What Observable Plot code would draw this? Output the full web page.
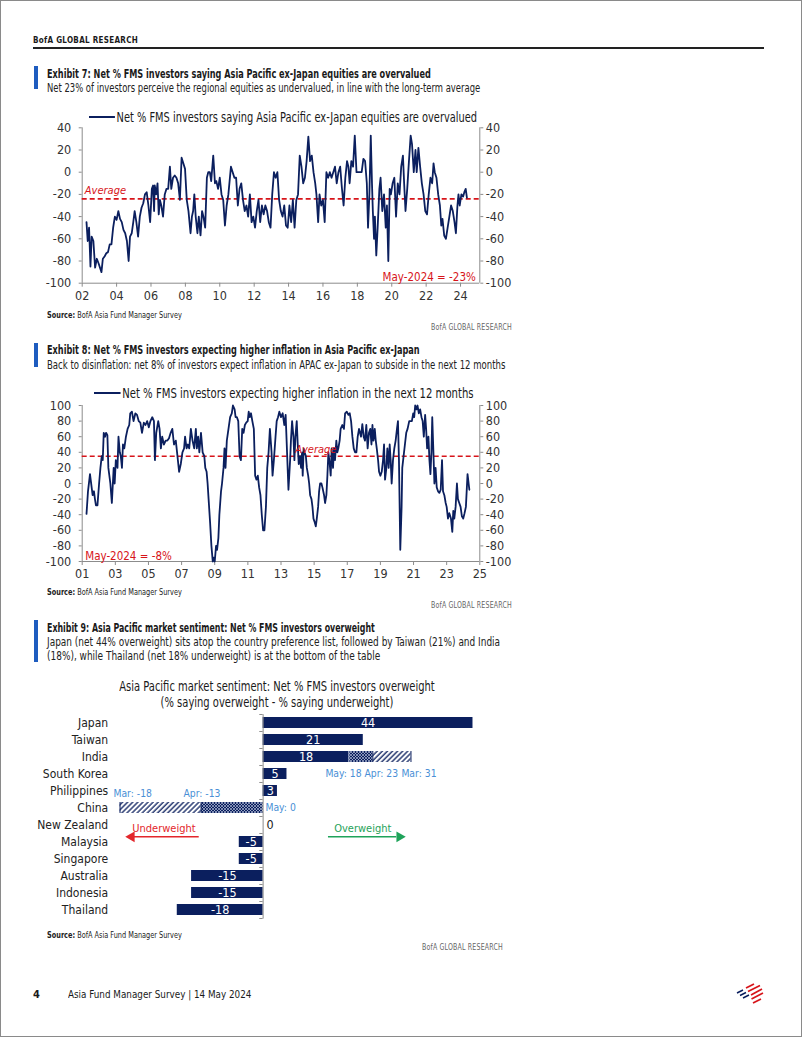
<!DOCTYPE html>
<html><head><meta charset="utf-8">
<script src="https://cdn.jsdelivr.net/npm/d3@7"></script>
<script src="https://cdn.jsdelivr.net/npm/@observablehq/plot@0.6"></script>
<style>
html,body{margin:0;padding:0;background:#fff;}
#page{position:relative;width:802px;height:1037px;overflow:hidden;font-family:"DejaVu Sans Condensed","Liberation Sans Narrow",Roboto,sans-serif;color:#1a1a1a;}
#frame{position:absolute;left:0;top:0;width:802px;height:1037px;box-sizing:border-box;border:1px solid #8a8a8a;pointer-events:none;}
.abs{position:absolute;white-space:nowrap;transform-origin:0 50%;}
.bar{position:absolute;left:34px;width:3.5px;background:#1e5cbf;}
.title{font-size:12.5px;font-weight:bold;line-height:14px;transform:scaleX(0.725);}
.sub{font-size:12px;line-height:14px;color:#222;}
.src{font-size:8px;line-height:10px;color:#222;transform:scaleX(0.91);}
.gr{font-size:8px;line-height:10px;color:#666;letter-spacing:0.2px;transform:scaleX(0.87);transform-origin:100% 50%;}
.leg{font-size:13.5px;line-height:14px;color:#1a1a1a;}
.sw{display:inline-block;width:32px;height:2px;background:#0b1f5e;vertical-align:middle;margin-right:2px;position:relative;top:-1px;}
.chart{position:absolute;}
</style></head>
<body>
<div id="page">
  <div class="abs" style="left:33px;top:36px;font-size:8px;font-weight:bold;letter-spacing:0.3px;">BofA GLOBAL RESEARCH</div>
  <div class="abs" style="left:33px;top:47px;width:731px;height:1.5px;background:#222;"></div>

  <div class="bar" style="top:66px;height:23px;"></div>
  <div class="abs title" style="left:47px;top:67px;">Exhibit 7: Net % FMS investors saying Asia Pacific ex-Japan equities are overvalued</div>
  <div class="abs sub" style="left:47px;top:81px;transform:scaleX(0.78);">Net 23% of investors perceive the regional equities as undervalued, in line with the long-term average</div>
  <div class="abs leg" style="left:89px;top:110px;transform:scaleX(0.81);"><span class="sw"></span>Net % FMS investors saying Asia Pacific ex-Japan equities are overvalued</div>
  <div id="c1" class="chart" style="left:30px;top:100px;"></div>
  <div class="abs src" style="left:47px;top:311px;"><b>Source:</b> BofA Asia Fund Manager Survey</div>
  <div class="abs gr" style="right:290px;top:323px;">BofA GLOBAL RESEARCH</div>

  <div class="bar" style="top:343px;height:24px;"></div>
  <div class="abs title" style="left:47px;top:343px;">Exhibit 8: Net % FMS investors expecting higher inflation in Asia Pacific ex-Japan</div>
  <div class="abs sub" style="left:47px;top:358px;transform:scaleX(0.79);">Back to disinflation: net 8% of investors expect inflation in APAC ex-Japan to subside in the next 12 months</div>
  <div class="abs leg" style="left:94px;top:386px;transform:scaleX(0.83);"><span class="sw"></span>Net % FMS investors expecting higher inflation in the next 12 months</div>
  <div id="c2" class="chart" style="left:30px;top:380px;"></div>
  <div class="abs src" style="left:47px;top:588px;"><b>Source:</b> BofA Asia Fund Manager Survey</div>
  <div class="abs gr" style="right:290px;top:601px;">BofA GLOBAL RESEARCH</div>

  <div class="bar" style="top:620px;height:42px;"></div>
  <div class="abs title" style="left:47px;top:621px;transform:scaleX(0.7);">Exhibit 9: Asia Pacific market sentiment: Net % FMS investors overweight</div>
  <div class="abs sub" style="left:47px;top:636px;line-height:13.5px;transform:scaleX(0.83);transform-origin:0 0;">Japan (net 44% overweight) sits atop the country preference list, followed by Taiwan (21%) and India<br>(18%), while Thailand (net 18% underweight) is at the bottom of the table</div>
  <div class="abs" style="left:77px;top:678px;width:400px;text-align:center;font-size:14px;line-height:16px;transform:scaleX(0.79);transform-origin:50% 50%;">Asia Pacific market sentiment: Net % FMS investors overweight<br>(% saying overweight - % saying underweight)</div>
  <div id="c3" class="chart" style="left:30px;top:710px;"></div>
  <div class="abs src" style="left:47px;top:931px;"><b>Source:</b> BofA Asia Fund Manager Survey</div>
  <div class="abs gr" style="right:299px;top:943px;">BofA GLOBAL RESEARCH</div>

  <div class="abs" style="left:33px;top:988px;font-size:11px;font-weight:bold;line-height:14px;">4</div>
  <div class="abs" style="left:68px;top:988px;font-size:11px;line-height:14px;transform:scaleX(0.89);">Asia Fund Manager Survey | 14 May 2024</div>
  <svg class="abs" style="left:733px;top:983px;" width="32" height="22" viewBox="0 0 32 22">
    <g stroke-linecap="butt" fill="none">
      <path d="M4 10 L10 7 M7 12.5 L13 9.5 M10 15 L16 12" stroke="#0b1f5e" stroke-width="1.5"/>
      <path d="M13 5 L21 1 M15 8.5 L27 2.5 M18 12 L29 6 M18.5 16 L30 10 M20 20 L28 16" stroke="#d7141a" stroke-width="1.7"/>
    </g>
  </svg>
  <div id="frame"></div>
</div>
<script>
// ---------- DATA ----------
// Exhibit 7: net % saying APxJ equities overvalued [year, value]
const valuationSeries = [[2002.25,-45],[2002.32,-62],[2002.40,-50],[2002.48,-85],[2002.55,-58],[2002.65,-62],[2002.75,-86],[2002.85,-78],[2002.95,-82],[2003.12,-90],[2003.2,-78],[2003.3,-76],[2003.4,-73],[2003.5,-72],[2003.6,-65],[2003.7,-65],[2003.8,-50],[2003.9,-40],[2004.0,-43],[2004.1,-35],[2004.2,-42],[2004.3,-45],[2004.4,-52],[2004.5,-55],[2004.6,-62],[2004.7,-80],[2004.78,-58],[2004.88,-55],[2004.97,-45],[2005.05,-35],[2005.15,-45],[2005.25,-58],[2005.35,-40],[2005.45,-32],[2005.55,-28],[2005.65,-20],[2005.75,-18],[2005.85,-30],[2005.95,-45],[2006.05,-15],[2006.12,-12],[2006.18,-35],[2006.22,-12],[2006.3,-20],[2006.38,-10],[2006.45,-38],[2006.52,-25],[2006.6,-30],[2006.7,-40],[2006.8,-20],[2006.9,-15],[2007.0,-15],[2007.1,5],[2007.18,-15],[2007.28,-5],[2007.38,-3],[2007.48,-5],[2007.58,-10],[2007.68,-25],[2007.78,13],[2007.88,8],[2007.98,3],[2008.08,-25],[2008.18,-35],[2008.3,-55],[2008.38,-40],[2008.45,-35],[2008.52,-20],[2008.6,-40],[2008.7,-55],[2008.78,-40],[2008.88,-57],[2008.97,-35],[2009.05,-40],[2009.15,-50],[2009.25,-5],[2009.33,0],[2009.42,0],[2009.5,-8],[2009.62,15],[2009.72,-10],[2009.8,-8],[2009.9,-15],[2010.0,-5],[2010.1,-20],[2010.2,-25],[2010.3,-48],[2010.4,-30],[2010.5,-20],[2010.65,5],[2010.75,0],[2010.85,-5],[2010.95,-5],[2011.05,-30],[2011.15,-15],[2011.25,-10],[2011.35,-25],[2011.45,-35],[2011.55,-30],[2011.65,-40],[2011.75,-20],[2011.85,-45],[2011.95,-40],[2012.05,-50],[2012.15,-35],[2012.25,-25],[2012.35,-45],[2012.45,-30],[2012.55,-38],[2012.65,-30],[2012.75,-35],[2012.85,-45],[2012.95,-50],[2013.05,-20],[2013.15,0],[2013.25,-5],[2013.35,0],[2013.45,-25],[2013.55,-35],[2013.65,-40],[2013.75,-30],[2013.85,-48],[2013.95,-50],[2014.05,-30],[2014.15,-45],[2014.25,-25],[2014.35,-50],[2014.45,-25],[2014.55,-20],[2014.65,15],[2014.75,5],[2014.85,-10],[2014.95,-5],[2015.05,10],[2015.15,32],[2015.25,10],[2015.35,15],[2015.45,0],[2015.55,-10],[2015.62,-20],[2015.72,-45],[2015.8,-20],[2015.9,-30],[2016.0,-25],[2016.1,-45],[2016.2,0],[2016.3,-5],[2016.4,0],[2016.5,-5],[2016.6,0],[2016.7,5],[2016.8,-10],[2016.9,0],[2017.0,5],[2017.1,-14],[2017.2,-30],[2017.3,-5],[2017.4,10],[2017.48,5],[2017.55,-10],[2017.65,10],[2017.75,5],[2017.85,33],[2017.95,0],[2018.1,0],[2018.25,0],[2018.35,12],[2018.45,10],[2018.55,-10],[2018.62,-50],[2018.7,-20],[2018.78,33],[2018.85,-10],[2018.9,-35],[2018.97,-60],[2019.02,-40],[2019.1,-75],[2019.18,-50],[2019.28,-15],[2019.35,-5],[2019.45,-35],[2019.55,-20],[2019.65,-50],[2019.72,-30],[2019.8,-80],[2019.88,-15],[2019.95,-20],[2020.05,-10],[2020.15,-5],[2020.25,-40],[2020.35,-10],[2020.45,-20],[2020.55,5],[2020.65,15],[2020.72,-10],[2020.8,-35],[2020.9,-15],[2021.0,10],[2021.1,33],[2021.18,25],[2021.28,0],[2021.38,20],[2021.45,0],[2021.55,22],[2021.65,5],[2021.75,-10],[2021.85,-20],[2021.95,-35],[2022.05,-38],[2022.15,-20],[2022.25,-5],[2022.35,-10],[2022.43,8],[2022.5,0],[2022.6,-5],[2022.7,-20],[2022.8,-30],[2022.88,-48],[2022.95,-42],[2023.05,-57],[2023.15,-60],[2023.25,-50],[2023.35,-40],[2023.45,-30],[2023.55,-35],[2023.65,-45],[2023.73,-55],[2023.82,-30],[2023.88,-20],[2023.95,-30],[2024.05,-20],[2024.15,-22],[2024.22,-18],[2024.3,-15],[2024.37,-23]];
const valuationAverage = -24;
const valuationYTicks = [-100,-80,-60,-40,-20,0,20,40];
const valuationXTicks = [2002,2004,2006,2008,2010,2012,2014,2016,2018,2020,2022,2024];
const valuationLatest = "May-2024 = -23%";

// Exhibit 8: net % expecting higher inflation [year, value]
const inflationSeries = [[2001.26,-39],[2001.35,-10],[2001.47,12],[2001.57,-5],[2001.63,-15],[2001.71,-10],[2001.77,-20],[2001.83,-28],[2001.92,-28],[2002.02,0],[2002.1,20],[2002.18,35],[2002.24,30],[2002.3,65],[2002.38,60],[2002.44,65],[2002.52,62],[2002.58,20],[2002.7,0],[2002.79,-25],[2002.9,20],[2002.96,0],[2003.03,30],[2003.13,20],[2003.19,60],[2003.27,40],[2003.33,35],[2003.4,20],[2003.46,50],[2003.54,45],[2003.64,60],[2003.74,70],[2003.84,75],[2003.9,90],[2004.0,92],[2004.1,80],[2004.21,90],[2004.31,88],[2004.41,80],[2004.51,78],[2004.61,65],[2004.72,78],[2004.82,75],[2004.92,80],[2005.02,72],[2005.12,80],[2005.23,85],[2005.33,80],[2005.39,30],[2005.47,65],[2005.59,80],[2005.67,70],[2005.75,45],[2005.83,60],[2005.93,50],[2006.04,55],[2006.14,55],[2006.24,58],[2006.34,65],[2006.44,70],[2006.54,50],[2006.65,55],[2006.75,35],[2006.85,15],[2006.95,25],[2007.05,40],[2007.15,45],[2007.21,60],[2007.3,45],[2007.38,50],[2007.46,45],[2007.56,70],[2007.66,55],[2007.76,45],[2007.86,70],[2007.92,45],[2008.0,60],[2008.07,40],[2008.17,65],[2008.27,40],[2008.37,35],[2008.43,20],[2008.51,15],[2008.57,0],[2008.63,-20],[2008.72,-50],[2008.8,-80],[2008.88,-100],[2008.94,-95],[2009.0,-100],[2009.08,-80],[2009.14,-85],[2009.22,-70],[2009.28,-40],[2009.38,-10],[2009.44,0],[2009.53,20],[2009.59,45],[2009.65,20],[2009.73,55],[2009.83,70],[2009.93,85],[2010.03,90],[2010.1,100],[2010.2,95],[2010.26,85],[2010.34,85],[2010.42,80],[2010.5,35],[2010.58,30],[2010.66,70],[2010.74,65],[2010.82,75],[2010.9,78],[2010.99,80],[2011.05,92],[2011.11,85],[2011.19,90],[2011.27,80],[2011.36,70],[2011.44,10],[2011.52,5],[2011.6,10],[2011.68,-5],[2011.76,-15],[2011.84,-40],[2011.92,-60],[2012.0,-60],[2012.09,-30],[2012.17,20],[2012.25,40],[2012.33,70],[2012.43,40],[2012.49,10],[2012.57,30],[2012.67,60],[2012.74,80],[2012.82,85],[2012.9,92],[2013.0,85],[2013.1,90],[2013.2,75],[2013.28,88],[2013.45,-8],[2013.55,30],[2013.6,55],[2013.67,80],[2013.75,60],[2013.81,30],[2013.87,60],[2013.95,80],[2014.01,50],[2014.07,25],[2014.15,35],[2014.21,20],[2014.27,40],[2014.31,10],[2014.37,45],[2014.43,40],[2014.5,35],[2014.56,20],[2014.64,10],[2014.7,0],[2014.76,-15],[2014.84,-20],[2014.9,-30],[2014.96,-45],[2015.04,-50],[2015.1,-55],[2015.16,-45],[2015.24,-30],[2015.3,-10],[2015.36,0],[2015.44,0],[2015.5,-5],[2015.6,-15],[2015.66,-25],[2015.74,-15],[2015.8,10],[2015.86,40],[2015.94,25],[2016.0,10],[2016.06,45],[2016.14,20],[2016.2,45],[2016.26,30],[2016.34,55],[2016.4,40],[2016.46,45],[2016.54,55],[2016.6,70],[2016.7,75],[2016.8,70],[2016.87,90],[2016.97,92],[2017.07,88],[2017.15,90],[2017.23,80],[2017.31,60],[2017.39,45],[2017.47,40],[2017.55,40],[2017.63,60],[2017.71,70],[2017.77,65],[2017.83,60],[2017.91,76],[2017.99,60],[2018.07,55],[2018.15,75],[2018.23,45],[2018.31,65],[2018.39,70],[2018.46,50],[2018.52,75],[2018.58,55],[2018.66,70],[2018.72,55],[2018.78,45],[2018.86,30],[2018.92,15],[2019.0,10],[2019.08,15],[2019.16,30],[2019.22,50],[2019.28,5],[2019.36,20],[2019.42,45],[2019.5,20],[2019.56,50],[2019.62,30],[2019.68,0],[2019.76,30],[2019.84,45],[2019.92,55],[2020.0,70],[2020.06,80],[2020.12,30],[2020.2,-85],[2020.28,-30],[2020.32,20],[2020.4,35],[2020.48,50],[2020.56,65],[2020.64,70],[2020.74,80],[2020.82,80],[2020.9,80],[2020.98,90],[2021.04,85],[2021.1,100],[2021.18,95],[2021.24,100],[2021.32,90],[2021.4,95],[2021.48,85],[2021.55,80],[2021.62,60],[2021.7,88],[2021.76,70],[2021.82,45],[2021.9,60],[2021.96,30],[2022.02,12],[2022.08,40],[2022.13,85],[2022.2,40],[2022.26,0],[2022.33,20],[2022.4,-5],[2022.48,-10],[2022.56,-12],[2022.64,-8],[2022.72,30],[2022.78,-10],[2022.86,-15],[2022.94,-25],[2023.0,-30],[2023.08,-45],[2023.16,-38],[2023.26,-45],[2023.34,-62],[2023.4,-35],[2023.46,-45],[2023.54,-30],[2023.62,0],[2023.68,-20],[2023.76,-25],[2023.84,-30],[2023.92,-42],[2024.0,-45],[2024.08,-38],[2024.16,-30],[2024.26,12],[2024.37,-8]];
const inflationAverage = 35;
const inflationYTicks = [-100,-80,-60,-40,-20,0,20,40,60,80,100];
const inflationXTicks = [2001,2003,2005,2007,2009,2011,2013,2015,2017,2019,2021,2023,2025];
const inflationLatest = "May-2024 = -8%";

// Exhibit 9: net % overweight, May 2024
const countries = ["Japan","Taiwan","India","South Korea","Philippines","China","New Zealand","Malaysia","Singapore","Australia","Indonesia","Thailand"];
const netOverweight = [44,21,18,5,3,0,0,-5,-5,-15,-15,-18];
// previous months for India and China (bar extents as drawn) and their labels
const histCountries = ["India","China"];
const histMay = [18,0];
const histApr = [23,-13];
const histMar = [31,-30];
const histMayLabel = ["May: 18","May: 0"];
const histAprLabel = ["Apr: 23","Apr: -13"];
const histMarLabel = ["Mar: 31","Mar: -18"];

// ---------- STYLE ----------
const FONT = '"DejaVu Sans Condensed","Liberation Sans Narrow",Roboto,sans-serif';
const NAVY = "#0b1f5e", RED = "#d7141a", AXIS = "#8c8c8c", TXT = "#333", LBLUE = "#4a8fd6", GREEN = "#1fa35a";
const yy = d => String(d % 100).padStart(2, "0");
const plain = d => String(d);

function lineChart({series, avg, xDomain, yDomain, xTicks, yTicks, height, marginTop, marginBottom, avgAt, latest, latestAnchor, latestDx}) {
  return Plot.plot({
    width: 480, height, marginLeft: 51.7, marginRight: 30.7, marginTop, marginBottom,
    x: {domain: xDomain}, y: {domain: yDomain},
    style: {fontFamily: FONT, fontSize: "12.5px", color: TXT, background: "transparent", overflow: "visible"},
    marks: [
      Plot.ruleX(xDomain, {stroke: AXIS, strokeWidth: 1}),
      Plot.ruleY([yDomain[0]], {stroke: AXIS, strokeWidth: 1}),
      Plot.axisY(yTicks, {anchor: "left", tickSize: 3, tickPadding: 8, stroke: AXIS, fill: TXT, tickFormat: plain, label: null}),
      Plot.axisY(yTicks, {anchor: "right", tickSize: 3, tickPadding: 3, stroke: AXIS, fill: TXT, tickFormat: plain, label: null}),
      Plot.axisX(xTicks, {anchor: "bottom", tickSize: 4, tickPadding: 4, stroke: AXIS, fill: TXT, tickFormat: yy, label: null}),
      Plot.ruleY([avg], {stroke: RED, strokeWidth: 1.6, strokeDasharray: "5,3"}),
      Plot.line(series, {x: d => d[0], y: d => d[1], stroke: NAVY, strokeWidth: 1.8}),
      Plot.text(["Average"], {x: avgAt[0], y: avgAt[1], fill: RED, fontStyle: "italic", fontSize: 11}),
      Plot.text([latest], {frameAnchor: latestAnchor, dx: latestDx, dy: -2, fill: RED, fontSize: 11.5})
    ]
  });
}

document.getElementById("c1").append(lineChart({
  series: valuationSeries, avg: valuationAverage, xDomain: [2002, 2025.12], yDomain: [-100, 40],
  xTicks: valuationXTicks, yTicks: valuationYTicks, height: 215, marginTop: 27.3, marginBottom: 32.3,
  avgAt: [2003.35, -16.5], latest: valuationLatest, latestAnchor: "bottom-right", latestDx: -4
}));

document.getElementById("c2").append(lineChart({
  series: inflationSeries, avg: inflationAverage, xDomain: [2001, 2025], yDomain: [-100, 100],
  xTicks: inflationXTicks, yTicks: inflationYTicks, height: 210, marginTop: 25, marginBottom: 29,
  avgAt: [2015.1, 44], latest: inflationLatest, latestAnchor: "bottom-left", latestDx: 3
}));

// ---------- Exhibit 9 ----------
const ow = countries.map((c, i) => ({c, v: netOverweight[i]}));
const hist = histCountries.map((c, i) => ({c, may: histMay[i], apr: histApr[i], mar: histMar[i],
  mayL: histMayLabel[i], aprL: histAprLabel[i], marL: histMarLabel[i]}));
const india = hist.filter(d => d.c === "India");
const china = hist.filter(d => d.c === "China");
const step = 17.03;
const small = {fill: LBLUE, fontSize: 10.3, textAnchor: "start"};

const c3 = Plot.plot({
  width: 480, height: 212, marginLeft: 80, marginRight: 8.9, marginTop: 4.2, marginBottom: 3.4,
  x: {domain: [-32, 50], axis: null},
  y: {domain: countries, paddingInner: 0.336, paddingOuter: 0.168},
  style: {fontFamily: FONT, fontSize: "12px", color: "#222", background: "transparent", overflow: "visible"},
  marks: [
    Plot.axisY({anchor: "left", tickSize: 0, tickPadding: 2.3, fontSize: 12, fill: "#222", label: null}),
    Plot.barX(ow.filter(d => d.v !== 0), {x: "v", y: "c", fill: NAVY}),
    Plot.barX(hist, {x1: "may", x2: "apr", y: "c", fill: "url(#xhatch)"}),
    Plot.barX(hist, {x1: "apr", x2: "mar", y: "c", fill: "url(#dhatch)"}),
    Plot.tickX(hist, {x: "apr", y: "c", stroke: NAVY, strokeWidth: 1}),
    Plot.tickX(hist, {x: "mar", y: "c", stroke: NAVY, strokeWidth: 1}),
    Plot.tickX(india, {x: "may", y: "c", stroke: "#9aa6c8", strokeWidth: 1}),
    Plot.ruleX([0], {stroke: AXIS, strokeWidth: 1}),
    Plot.ruleY(countries, {y: d => d, x1: -0.7, x2: 0, dy: -step / 2, stroke: AXIS}),
    Plot.ruleY([countries[countries.length - 1]], {y: d => d, x1: -0.7, x2: 0, dy: step / 2, stroke: AXIS}),
    Plot.text(ow.filter(d => d.v !== 0), {x: d => d.v / 2, y: "c", text: d => String(d.v), fill: "white", fontSize: 12.5}),
    Plot.text(ow.filter(d => d.c === "New Zealand"), {x: "v", y: "c", text: d => String(d.v), fill: "#222", textAnchor: "start", dx: 3.5, fontSize: 12.5}),
    // India history labels (below the bar)
    Plot.text(india, {x: "may", y: "c", text: "mayL", dy: step, dx: -23.6, ...small}),
    Plot.text(india, {x: "apr", y: "c", text: "aprL", dy: step, dx: -8.4, ...small}),
    Plot.text(india, {x: "mar", y: "c", text: "marL", dy: step, dx: -9.6, ...small}),
    // China history labels
    Plot.text(china, {x: "mar", y: "c", text: "marL", dy: -14.6, dx: -6.6, ...small}),
    Plot.text(china, {x: "apr", y: "c", text: "aprL", dy: -14.6, dx: -17.7, ...small}),
    Plot.text(china, {x: "may", y: "c", text: "mayL", dx: 2.3, ...small}),
    // Underweight / Overweight arrows
    Plot.text(["Underweight"], {x: -20.8, y: () => "New Zealand", dy: 3.4, fill: "#e3262b", fontSize: 11}),
    Plot.ruleY(["New Zealand"], {y: d => d, x1: -13.4, x2: -27, dy: 11.8, stroke: "#e3262b", strokeWidth: 1.6}),
    Plot.dot(["New Zealand"], {x: -27.6, y: d => d, dy: 11.8, symbol: "triangle", rotate: -90, r: 4, fill: "#e3262b", stroke: "none"}),
    Plot.text(["Overweight"], {x: 20.9, y: () => "New Zealand", dy: 3.4, fill: GREEN, fontSize: 11}),
    Plot.ruleY(["New Zealand"], {y: d => d, x1: 13.7, x2: 28, dy: 11.8, stroke: GREEN, strokeWidth: 1.6}),
    Plot.dot(["New Zealand"], {x: 28.6, y: d => d, dy: 11.8, symbol: "triangle", rotate: 90, r: 4, fill: GREEN, stroke: "none"})
  ]
});
d3.select(c3).insert("defs", ":first-child").html(
  `<pattern id="xhatch" patternUnits="userSpaceOnUse" width="3" height="3">
     <rect width="3" height="3" fill="${NAVY}"/>
     <path d="M0,0L3,3M3,0L0,3" stroke="#c9d1e8" stroke-width="0.6"/>
   </pattern>
   <pattern id="dhatch" patternUnits="userSpaceOnUse" width="3.6" height="3.6" patternTransform="rotate(45)">
     <rect width="3.6" height="3.6" fill="#fff"/>
     <line x1="1" y1="0" x2="1" y2="3.6" stroke="${NAVY}" stroke-width="1.3"/>
   </pattern>`);
document.getElementById("c3").append(c3);
</script>
</body></html>
